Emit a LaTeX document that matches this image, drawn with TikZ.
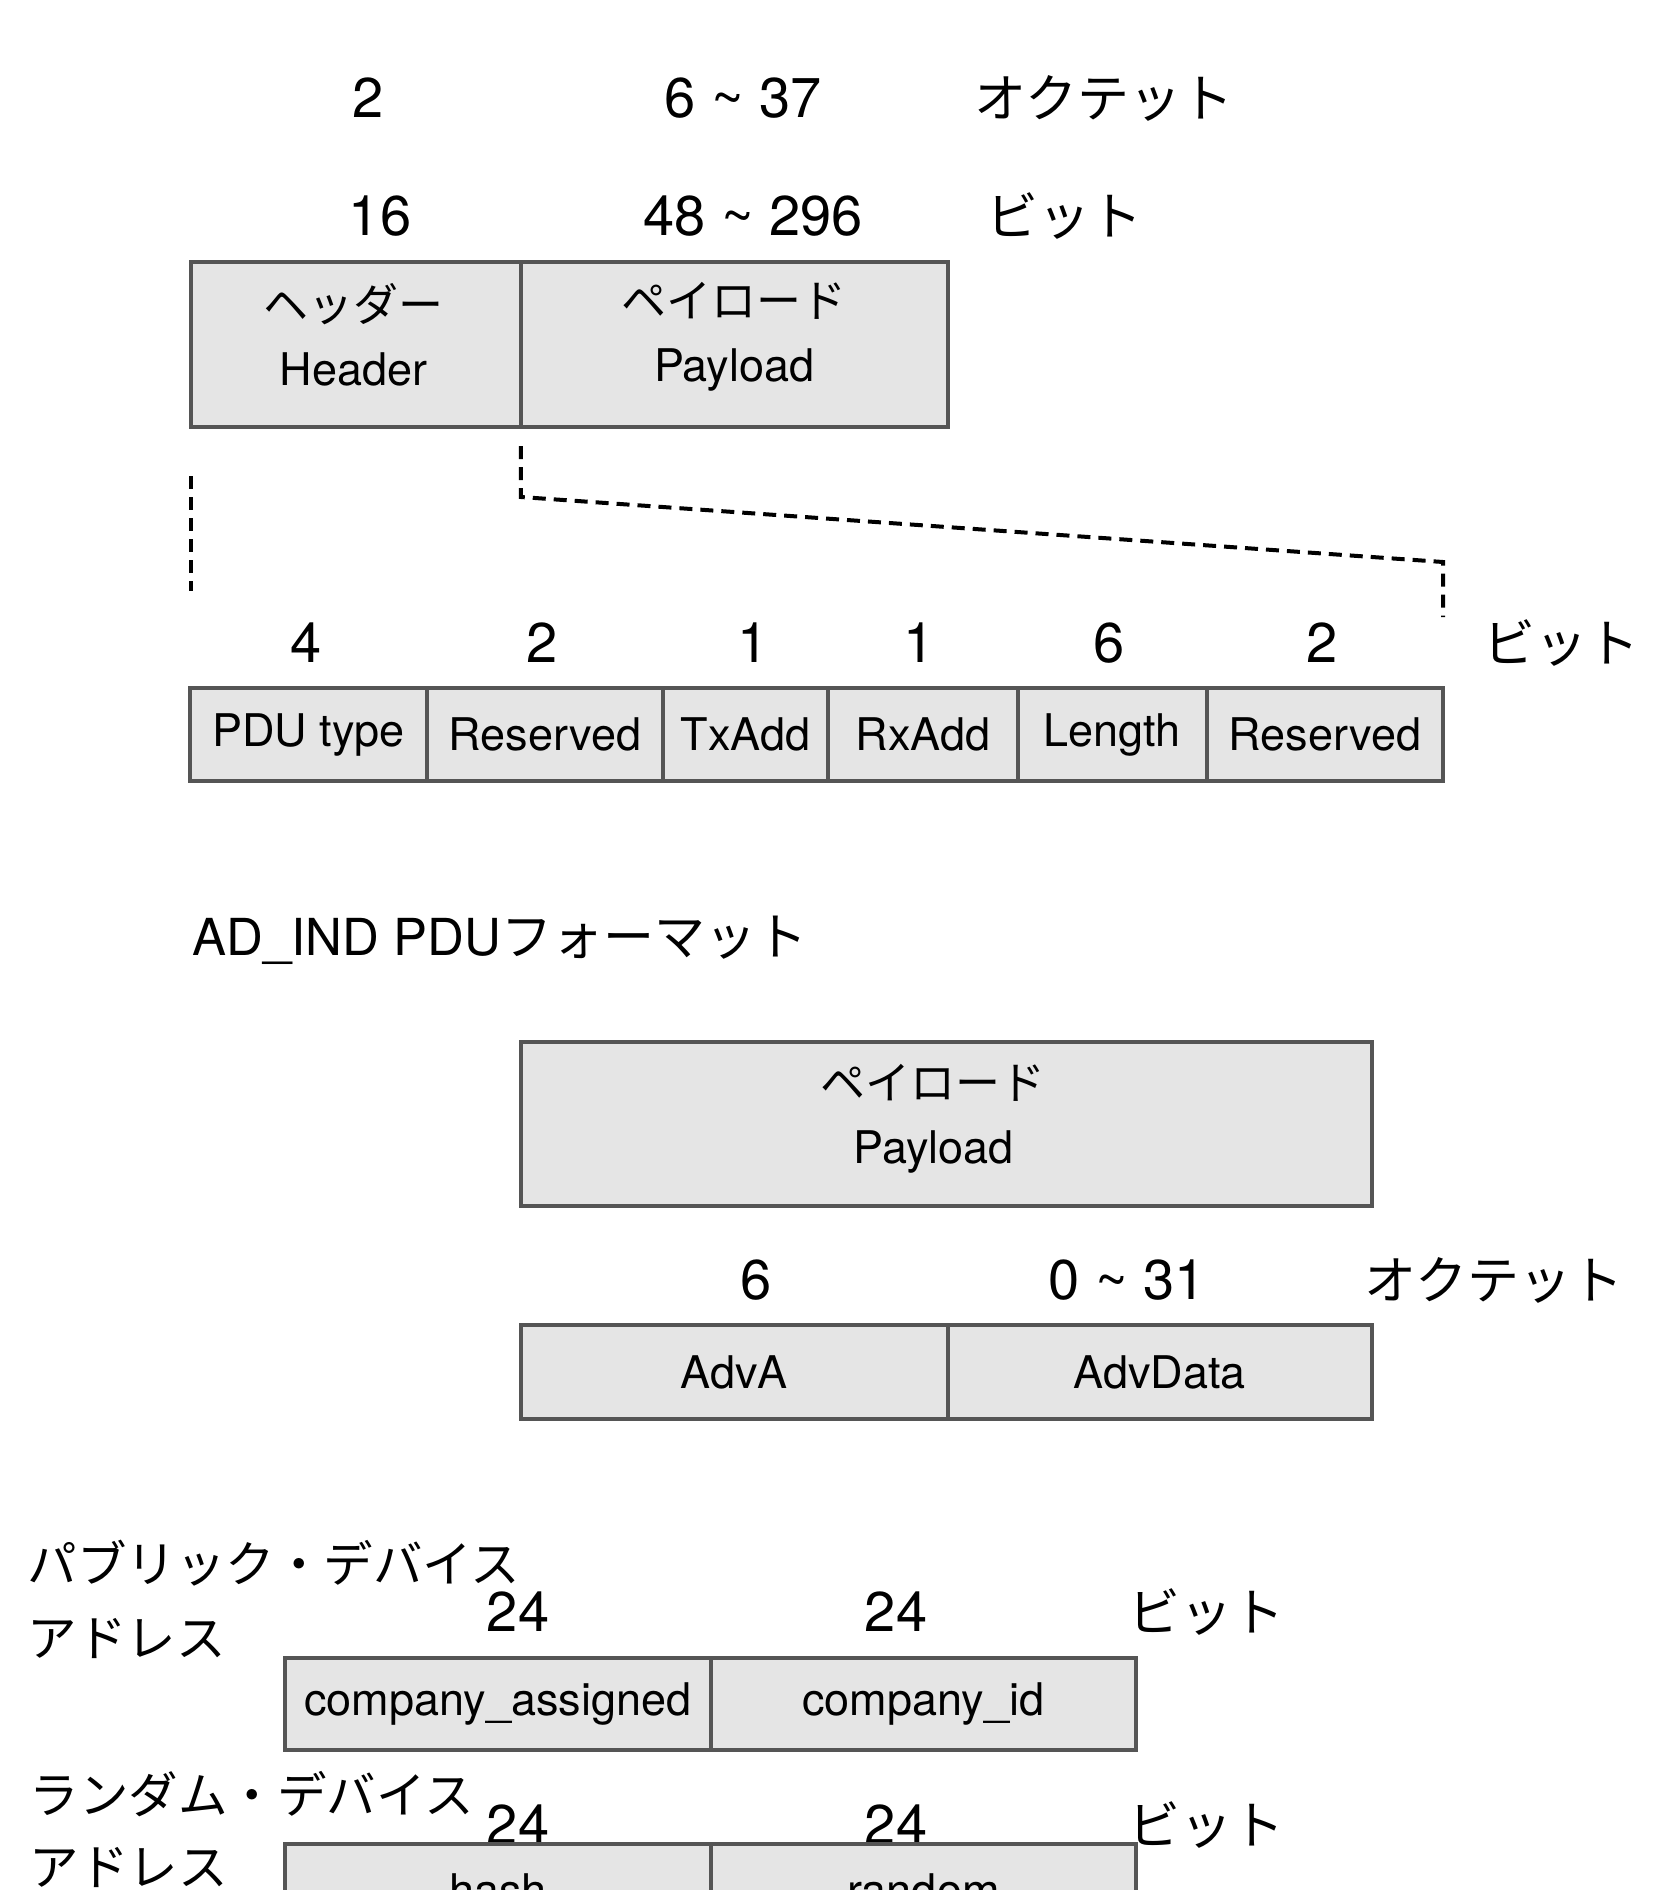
\documentclass[tikz,border=0pt]{standalone}
\usepackage{fontspec}
\setmainfont{TeX Gyre Heros}
\newfontfamily\jp{Noto Sans CJK JP}
\usepackage{xcolor}
\usepackage{tikz}
\definecolor{boxline}{HTML}{555555}
\definecolor{boxfill}{HTML}{E5E5E5}
\tikzset{fld/.style={rectangle,draw=boxline,fill=boxfill,line width=4pt,inner sep=0pt,align=center,font=\fontsize{45}{64}\selectfont}}
\tikzset{txt/.style={inner sep=0pt,align=center,font=\fontsize{45}{64}\selectfont}}
\tikzset{num/.style={anchor=base,font=\fontsize{56}{56}\selectfont}}
\tikzset{unit/.style={anchor=base,font=\jp\fontsize{52}{52}\selectfont}}
\tikzset{side/.style={anchor=base west,font=\jp\fontsize{49.5}{49.5}\selectfont}}
\tikzset{cut/.style={line width=4pt,dash pattern=on 13pt off 8pt}}

\begin{document}
\begin{tikzpicture}[x=1pt,y=-1pt]
    \useasboundingbox (0,0) rectangle (1654,1890);

    % packet
    \node[num] (o2)at (368,117) {2};
    \node[num] (o637)at (743,117) {6 \textasciitilde{} 37};
    \node[unit] (oct1)at (1104,117) {オクテット};
    \node[num] (b16)at (380,235) {16};
    \node[num] (b48)at (753,235) {48 \textasciitilde{} 296};
    \node[unit] (bit1)at (1064,235) {ビット};
    \node[fld,minimum width=330pt,minimum height=165pt] (hdr)at (355.7,344.2) {};
    \node[fld,minimum width=427pt,minimum height=165pt] (pay)at (734.2,344.2) {};
    \node[txt] (hdrt)at ([xshift=-2pt,yshift=9pt]hdr.center) {{\jp ヘッダー}\\Header};
    \node[txt] (payt)at ([yshift=7pt]pay.center) {{\jp ペイロード}\\Payload};

    % header fields
    \coordinate (l1)at (190.5,476);
    \coordinate (l2)at (190.5,591);
    \coordinate (r1)at (520.8,446);
    \coordinate (r2)at (520.8,497);
    \coordinate (r3)at (1443,562);
    \coordinate (r4)at (1443,617);
    \draw [cut] (l1) -- (l2);
    \draw [cut] (r1) -- (r2) -- (r3) -- (r4);

    \node[num] (h4)at (306,662) {4};
    \node[num] (h2a)at (542,662) {2};
    \node[num] (h1a)at (753,662) {1};
    \node[num] (h1b)at (919,662) {1};
    \node[num] (h6)at (1109,662) {6};
    \node[num] (h2b)at (1322,662) {2};
    \node[unit] (bit2)at (1561,662) {ビット};
    \node[fld,minimum width=236.3pt,minimum height=93pt] (pdu)at (308.6,734.5) {PDU type};
    \node[fld,minimum width=236.3pt,minimum height=93pt] (rsv1)at (544.9,734.5) {Reserved};
    \node[fld,minimum width=165.2pt,minimum height=93pt] (tx)at (745.7,734.5) {TxAdd};
    \node[fld,minimum width=189.3pt,minimum height=93pt] (rx)at (922.9,734.5) {RxAdd};
    \node[fld,minimum width=189.3pt,minimum height=93pt] (len)at (1112.2,734.5) {Length};
    \node[fld,minimum width=236.3pt,minimum height=93pt] (rsv2)at (1325.0,734.5) {Reserved};

    % AD_IND
    \node[anchor=base west,font=\fontsize{51}{51}\selectfont] (ttl)at (189,955) {AD\_IND PDU{\jp フォーマット}};
    \node[fld,minimum width=851pt,minimum height=164pt] (pay2)at (946.4,1123.5) {};
    \node[txt] (pay2t)at ([xshift=-13pt,yshift=5pt]pay2.center) {{\jp ペイロード}\\Payload};
    \node[num] (a6)at (756,1299) {6};
    \node[num] (a031)at (1127,1299) {0 \textasciitilde{} 31};
    \node[unit] (oct2)at (1494,1299) {オクテット};
    \node[fld,minimum width=426.7pt,minimum height=94pt] (adva)at (734.2,1372) {AdvA};
    \node[fld,minimum width=424.5pt,minimum height=94pt] (advd)at (1159.8,1372) {AdvData};

    % addresses
    \node[side] (pub1)at (24,1582) {パブリック・デバイス};
    \node[side] (pub2)at (24,1656) {アドレス};
    \node[num] (p24a)at (518,1631) {24};
    \node[num] (p24b)at (896,1631) {24};
    \node[unit] (bit3)at (1206,1631) {ビット};
    \node[fld,minimum width=426.5pt,minimum height=92.4pt] (cas)at (497.8,1703.8) {company\_assigned};
    \node[fld,minimum width=424.6pt,minimum height=92.4pt] (cid)at (923.3,1703.8) {company\_id};

    \node[side] (rnd1)at (26,1813) {ランダム・デバイス};
    \node[side] (rnd2)at (26,1885) {アドレス};
    \node[num] (r24a)at (518,1844) {24};
    \node[num] (r24b)at (896,1844) {24};
    \node[unit] (bit4)at (1206,1844) {ビット};
    \node[fld,minimum width=426.5pt,minimum height=92.4pt] (hsh)at (497.8,1890) {hash};
    \node[fld,minimum width=424.6pt,minimum height=92.4pt] (rnd)at (923.3,1890) {random};
\end{tikzpicture}
\end{document}
